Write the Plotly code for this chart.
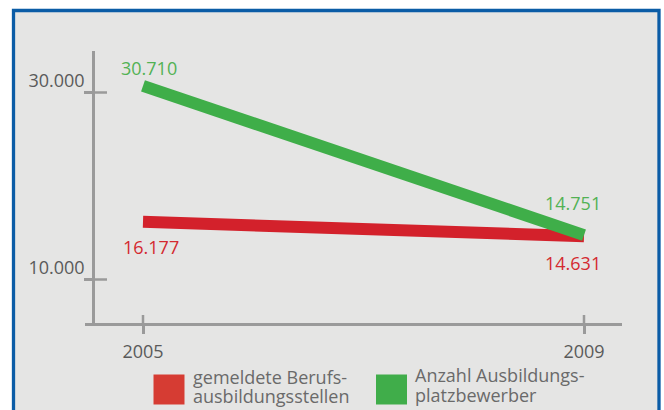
import plotly.graph_objects as go

# ---- data ----
years = [2005, 2009]
year_labels = ["2005", "2009"]
series_names = ["gemeldete Berufs-\nausbildungsstellen", "Anzahl Ausbildungs-\nplatzbewerber"]
stellen = [16177, 14631]
bewerber = [30710, 14751]
y_tickvals = [10000, 30000]
y_ticklabels = ["10.000", "30.000"]

# ---- styles ----
FONT = "Open Sans"
AXIS_COL = "#9a9a9a"
TICK_TXT = "#5a5a5a"
LEG_TXT = "#6a6a6a"
BG = "#e5e5e4"
BLUE = "#0b5ca6"
line_cols = ["#d3212b", "#3fae49"]
label_cols = ["#d42a30", "#52b254"]
legend_cols = ["#d63c33", "#40ad4a"]

W, H = 664, 410
L, R, T, B = 85, 622, 51, 323  # plot area in pixels
pw, ph = R - L, B - T

def px_x(x):
    return (x - L) / pw

def px_y(y):
    return (B - y) / ph

# x scale: 2005 -> 143px, 2009 -> 584px
x_a, x_b = 143, 584
ppy = (x_b - x_a) / (years[1] - years[0])
x_range = [years[0] - (x_a - L) / ppy, years[1] + (R - x_b) / ppy]
# y scale: 30000 -> 92.5px, 10000 -> 279.5px
y_hi_px, y_lo_px = 92.5, 279.5
ppu = (y_lo_px - y_hi_px) / (y_tickvals[1] - y_tickvals[0])
y_range = [y_tickvals[0] - (B - y_lo_px) / ppu, y_tickvals[1] + (y_hi_px - T) / ppu]

def fmt(v):
    return f"{v:,}".replace(",", ".")

fig = go.Figure()
all_series = [stellen, bewerber]
for vals, col, name in zip(all_series, line_cols, series_names):
    fig.add_trace(go.Scatter(x=years, y=vals, mode="lines", name=name.replace("\n", " "),
                             line=dict(color=col, width=12), showlegend=False,
                             hoverinfo="skip"))

# value label offsets (pixels): per series, per point
label_shift = [[(8, -25), (-11, -27)], [(6, 18), (-11, 32)]]
annotations = []
for vals, col, shifts in zip(all_series, label_cols, label_shift):
    for x, v, (dx, dy) in zip(years, vals, shifts):
        annotations.append(dict(x=x, y=v, xref="x", yref="y", text=fmt(v), showarrow=False,
                                xshift=dx, yshift=dy, font=dict(family=FONT, size=18, color=col)))

# legend (manual)
shapes = []
leg_sq_x = [153.5, 376]
leg_txt_x = [191, 413]
leg_txt_y = [[376.5, 396], [375, 394.5]]
for sx, tx, tys, col, name in zip(leg_sq_x, leg_txt_x, leg_txt_y, legend_cols, series_names):
    shapes.append(dict(type="rect", xref="paper", yref="paper", x0=px_x(sx), x1=px_x(sx + 31),
                       y0=px_y(404.5), y1=px_y(374.5), fillcolor=col, line=dict(width=0)))
    for line_txt, ty in zip(name.split("\n"), tys):
        annotations.append(dict(x=px_x(tx), y=px_y(ty), xref="paper", yref="paper", text=line_txt,
                                showarrow=False, xanchor="left", yanchor="middle",
                                font=dict(family=FONT, size=18, color=LEG_TXT)))

# frame
shapes.insert(0, dict(type="rect", xref="paper", yref="paper", layer="below",
                      x0=px_x(13.5), x1=px_x(659), y0=px_y(430), y1=px_y(10.5),
                      fillcolor=BG, line=dict(color=BLUE, width=3.3)))

# inner halves of the tick marks
ypos = (93 - L) / pw
for yv in y_tickvals:
    shapes.append(dict(type="line", yref="y", y0=yv, y1=yv, xref="paper", xsizemode="pixel",
                       xanchor=ypos, x0=0, x1=14, line=dict(color=AXIS_COL, width=2.5)))
for xv in years:
    shapes.append(dict(type="line", xref="x", x0=xv, x1=xv, yref="paper", ysizemode="pixel",
                       yanchor=0, y0=0, y1=8, line=dict(color=AXIS_COL, width=2.5)))

fig.update_layout(
    width=W, height=H, autosize=False,
    margin=dict(l=L, r=W - R, t=T, b=H - B, pad=0),
    paper_bgcolor="white", plot_bgcolor="rgba(0,0,0,0)",
    font=dict(family=FONT, size=18, color=TICK_TXT),
    xaxis=dict(range=x_range, tickvals=years, ticktext=year_labels, showline=True,
               linecolor=AXIS_COL, linewidth=2.5, ticks="outside", ticklen=8, tickwidth=2.5,
               tickcolor=AXIS_COL, showgrid=False, zeroline=False,
               tickfont=dict(family=FONT, size=18, color=TICK_TXT), ticklabelstandoff=3),
    yaxis=dict(range=y_range, anchor="free", position=ypos, tickvals=y_tickvals,
               ticktext=y_ticklabels, showline=True, linecolor=AXIS_COL, linewidth=2.5,
               ticks="outside", ticklen=8, tickwidth=2.5, tickcolor=AXIS_COL, showgrid=False,
               zeroline=False, tickfont=dict(family=FONT, size=18, color=TICK_TXT),
               ticklabelshift=-12, ticklabelstandoff=-4),
    shapes=shapes, annotations=annotations, showlegend=False,
)

fig.write_html("out.html", config={"displayModeBar": False},
               post_script="document.body.style.margin='0px';")
